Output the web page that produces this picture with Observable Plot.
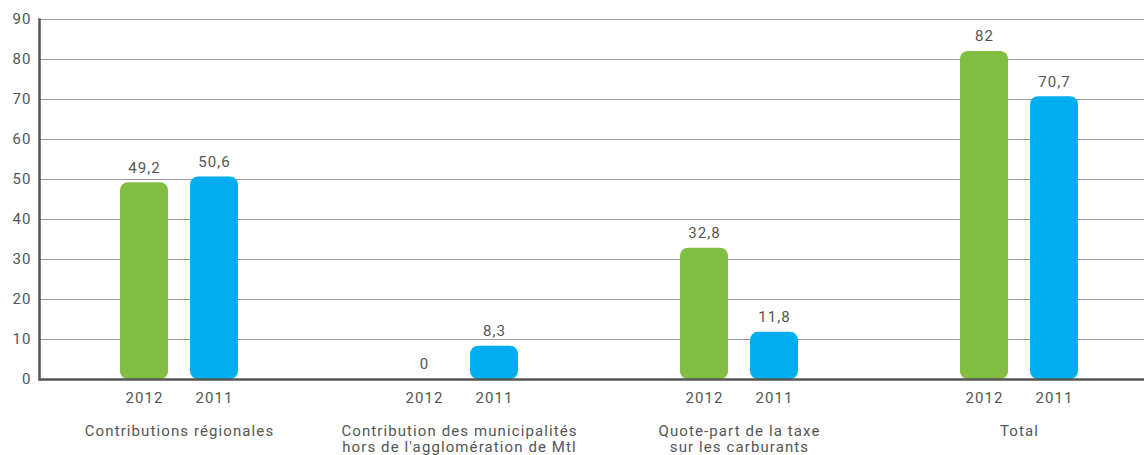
<!DOCTYPE html>
<html>
<head>
<meta charset="utf-8">
<script src="https://cdn.jsdelivr.net/npm/d3@7"></script>
<script src="https://cdn.jsdelivr.net/npm/@observablehq/plot@0.6"></script>
<style>
  html, body { margin: 0; padding: 0; background: #fff; overflow: hidden; }
  #chart svg { display: block; }
  #chart svg text { letter-spacing: 1.1px; }
</style>
</head>
<body>
<div id="chart"></div>
<script>
const groups = [
  "Contributions régionales",
  "Contribution des municipalités\nhors de l'agglomération de Mtl",
  "Quote-part de la taxe\nsur les carburants",
  "Total"
];
const years = ["2012", "2011"];
const values2012 = [49.2, 0, 32.8, 82];
const values2011 = [50.6, 8.3, 11.8, 70.7];
const yTicks = [0, 10, 20, 30, 40, 50, 60, 70, 80, 90];
const colors = ["#80bd41", "#00aeef"];

const data = groups.flatMap((g, i) => [
  {group: g, year: years[0], value: values2012[i]},
  {group: g, year: years[1], value: values2011[i]}
]);
const fmt = v => String(v).replace(".", ",");

const chart = Plot.plot({
  width: 1144,
  height: 455,
  marginLeft: 39,
  marginRight: 0,
  marginTop: 19,
  marginBottom: 76,
  style: {fontFamily: "Roboto, sans-serif", fontSize: "15px", color: "#555", background: "#fff"},
  fx: {domain: groups, padding: 0, range: [39, 1159], axis: null},
  x: {domain: years, paddingInner: 22 / 70, paddingOuter: (4 - 2 + 22 / 70) / 2, axis: null},
  y: {domain: [0, 90], axis: null},
  color: {domain: years, range: colors},
  marks: [
    Plot.ruleY(yTicks.filter(t => t > 0), {stroke: "#9a9a9a", strokeWidth: 1.2}),
    Plot.barY(data, {fx: "group", x: "year", y: "value", fill: "year", rx: 8}),
    Plot.text(data, {fx: "group", x: "year", y: "value", text: d => fmt(d.value), dy: -15, fill: "#555", fontSize: 15}),
    Plot.text(data, {fx: "group", x: "year", text: "year", frameAnchor: "bottom", lineAnchor: "middle", dy: 19, fill: "#555", fontSize: 15}),
    Plot.text(groups, {fx: d => d, text: d => d, frameAnchor: "bottom", lineAnchor: "top", lineHeight: 1.08, dy: 45, fill: "#555", fontSize: 15}),
    Plot.ruleY([0], {stroke: "#555", strokeWidth: 2.5}),
    Plot.frame({anchor: "left", facetAnchor: "left", stroke: "#555", strokeWidth: 2.5}),
    Plot.axisY(yTicks, {anchor: "left", tickSize: 0, tickPadding: 8, label: null, fontSize: 15, fill: "#555"})
  ]
});
document.getElementById("chart").append(chart);
</script>
</body>
</html>
